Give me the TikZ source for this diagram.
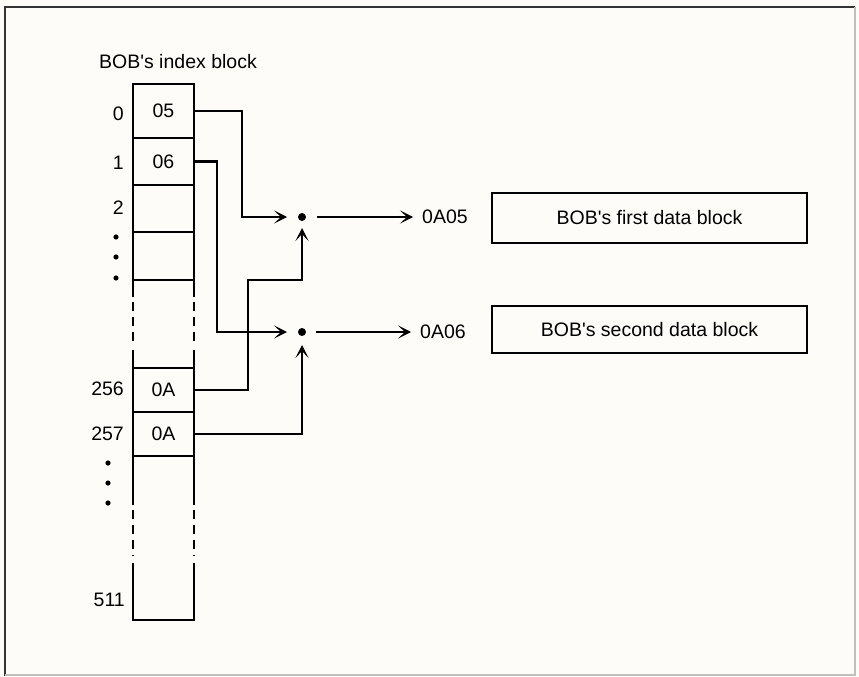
\documentclass[tikz,border=0pt]{standalone}
\usepackage{fontspec}
\setmainfont{Liberation Sans}
\usetikzlibrary{arrows.meta,calc}
\begin{document}
\begin{tikzpicture}[x=1pt,y=-1pt,
  every node/.style={font=\fontsize{19.5}{22}\selectfont},
  cell/.style={draw, line width=2.2pt, minimum width=61pt, inner sep=0pt, anchor=center},
  lbl/.style={inner sep=0pt, anchor=east},
  dotn/.style={circle, fill=black, inner sep=0pt, minimum size=8pt, outer sep=0pt},
  databox/.style={draw, line width=2.2pt, minimum width=315pt, inner sep=0pt},
  conn/.style={line width=2.2pt, -{Stealth[length=13pt,width=13pt,inset=7pt]}},
  side/.style={line width=2.2pt},
  brk/.style={line width=2.2pt, dash pattern=on 9pt off 6pt}
]
\useasboundingbox (0,0) rectangle (859,677);
\fill[fill={rgb,255:red,253;green,252;blue,249}] (0,0) rectangle (859,677);
% frame
\draw[line width=2pt, black!80] (5,676) -- (5,7) -- (855,7);
\draw[line width=1.2pt, black!25] (855,7) -- (855,675) -- (5,675);

% title
\node (title) at (178,62) {BOB\textquotesingle s index block};

% cells
\node[cell, minimum height=54pt] (c0) at (163.5,111) {05};
\node[cell, minimum height=47pt] (c1) at (163.5,161.5) {06};
\node[cell, minimum height=47pt] (c2) at (163.5,208.5) {};
\node[cell, minimum height=48pt] (c3) at (163.5,256) {};
\node[cell, minimum height=44pt] (c256) at (163.5,390) {0A};
\node[cell, minimum height=44pt] (c257) at (163.5,434) {0A};

% column sides between cells
\foreach \xx in {133,194}{
  \draw[side] (\xx,280) -- (\xx,297);
  \draw[brk] (\xx,302) -- (\xx,346);
  \draw[side] (\xx,350) -- (\xx,368);
  \draw[side] (\xx,456) -- (\xx,505);
  \draw[brk] (\xx,510) -- (\xx,556);
}
\draw[side] (133,563) -- (133,620) -- (194,620) -- (194,563);

% index labels
\node[lbl] (i0) at (124,114) {0};
\node[lbl] (i1) at (124,162.5) {1};
\node[lbl] (i2) at (124,207.5) {2};
\foreach \yy in {237,257,278}{\fill (116,\yy) circle (2.6pt);}
\node[lbl] (i256) at (124,388.5) {256};
\node[lbl] (i257) at (124,433.5) {257};
\foreach \yy in {463,483,503}{\fill (108,\yy) circle (2.6pt);}
\node[lbl] (i511) at (125,600) {511};

% junction dots
\node[dotn] (d1) at (302,217) {};
\node[dotn] (d2) at (302,332) {};

% turning points
\coordinate (t0) at (242,217);
\coordinate (t1) at (217,332);
\coordinate (t256) at (248,280);

% connectors
\draw[conn, shorten >=11pt] (c0.east) -| (t0) -- (d1);
\draw[conn, shorten >=11pt] (c1.east) -| (t1) -- (d2);
\draw[conn, shorten >=7pt] (c256.east) -| (t256) -| (d1);
\draw[conn, shorten >=9pt] (c257.east) -| (d2);

% addresses
\node[inner sep=0pt, anchor=west] (a1) at (422,217) {0A05};
\node[inner sep=0pt, anchor=west] (a2) at (420,332) {0A06};
\draw[conn, shorten <=11pt, shorten >=9pt] (d1) -- (a1);
\draw[conn, shorten <=10pt, shorten >=9pt] (d2) -- (a2);

% data blocks
\node[databox, minimum height=50pt] (b1) at (649.5,218) {BOB\textquotesingle s first data block};
\node[databox, minimum height=47pt] (b2) at (649.5,329.5) {BOB\textquotesingle s second data block};
\end{tikzpicture}
\end{document}
